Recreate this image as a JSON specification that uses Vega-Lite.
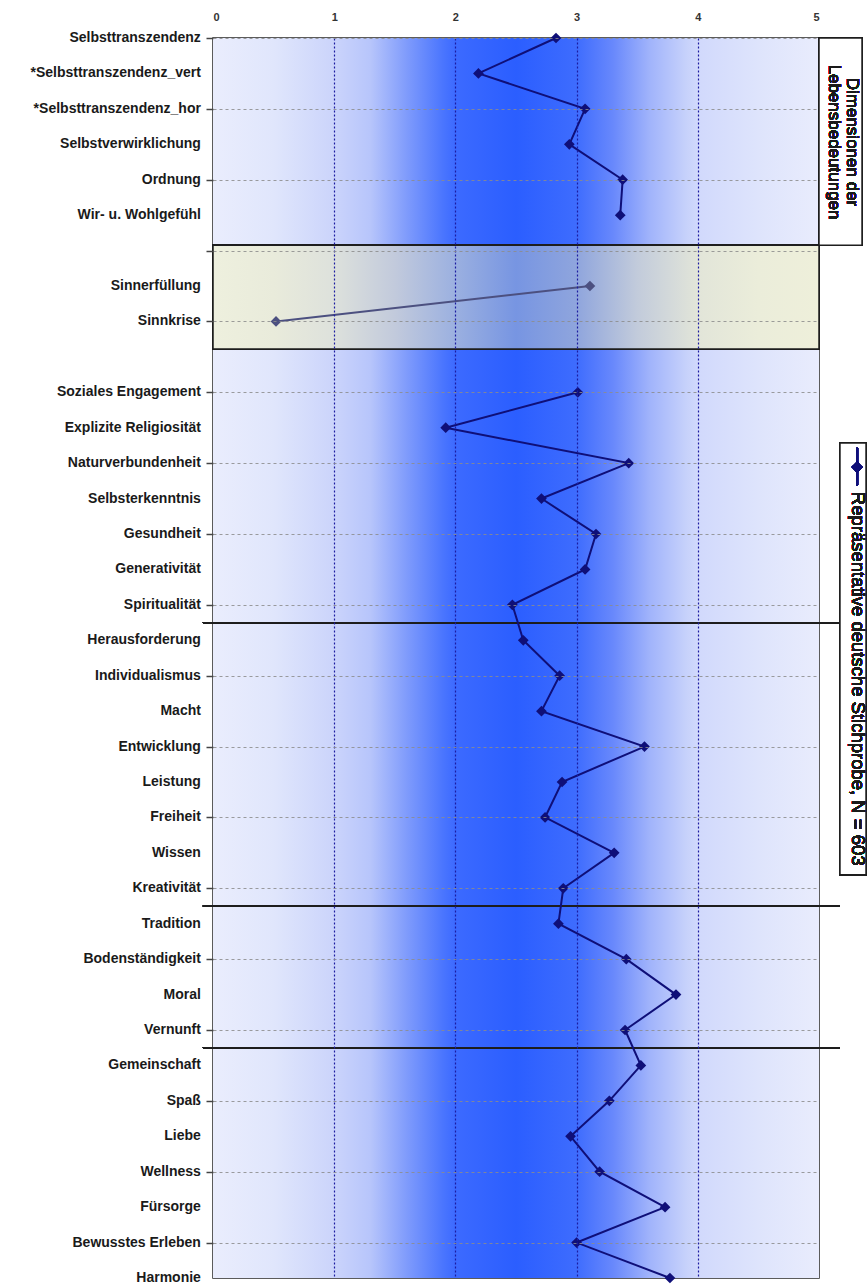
{
  "$schema": "https://vega.github.io/schema/vega-lite/v6.json",
  "width": 606,
  "height": 1240,
  "autosize": {"type": "none"},
  "padding": {"left": 213, "top": 38, "right": 49, "bottom": 8},
  "background": "white",
  "config": {
    "font": "Liberation Sans",
    "view": {"stroke": "#262626", "strokeWidth": 1.5},
    "axis": {"title": null}
  },
  "data": {
    "values": [
      {"row": 1, "name": "Selbsttranszendenz", "group": "dimension", "value": 2.83},
      {"row": 2, "name": "*Selbsttranszendenz_vert", "group": "dimension", "value": 2.19},
      {"row": 3, "name": "*Selbsttranszendenz_hor", "group": "dimension", "value": 3.07},
      {"row": 4, "name": "Selbstverwirklichung", "group": "dimension", "value": 2.94},
      {"row": 5, "name": "Ordnung", "group": "dimension", "value": 3.38},
      {"row": 6, "name": "Wir- u. Wohlgefühl", "group": "dimension", "value": 3.36},
      {"row": 8, "name": "Sinnerfüllung", "group": "sinn", "value": 3.11},
      {"row": 9, "name": "Sinnkrise", "group": "sinn", "value": 0.52},
      {"row": 11, "name": "Soziales Engagement", "group": "motive", "value": 3.01},
      {"row": 12, "name": "Explizite Religiosität", "group": "motive", "value": 1.92},
      {"row": 13, "name": "Naturverbundenheit", "group": "motive", "value": 3.43},
      {"row": 14, "name": "Selbsterkenntnis", "group": "motive", "value": 2.71},
      {"row": 15, "name": "Gesundheit", "group": "motive", "value": 3.16},
      {"row": 16, "name": "Generativität", "group": "motive", "value": 3.07},
      {"row": 17, "name": "Spiritualität", "group": "motive", "value": 2.47},
      {"row": 18, "name": "Herausforderung", "group": "motive", "value": 2.56},
      {"row": 19, "name": "Individualismus", "group": "motive", "value": 2.86},
      {"row": 20, "name": "Macht", "group": "motive", "value": 2.71},
      {"row": 21, "name": "Entwicklung", "group": "motive", "value": 3.56},
      {"row": 22, "name": "Leistung", "group": "motive", "value": 2.88},
      {"row": 23, "name": "Freiheit", "group": "motive", "value": 2.74},
      {"row": 24, "name": "Wissen", "group": "motive", "value": 3.31},
      {"row": 25, "name": "Kreativität", "group": "motive", "value": 2.89},
      {"row": 26, "name": "Tradition", "group": "motive", "value": 2.85},
      {"row": 27, "name": "Bodenständigkeit", "group": "motive", "value": 3.41},
      {"row": 28, "name": "Moral", "group": "motive", "value": 3.82},
      {"row": 29, "name": "Vernunft", "group": "motive", "value": 3.40},
      {"row": 30, "name": "Gemeinschaft", "group": "motive", "value": 3.53},
      {"row": 31, "name": "Spaß", "group": "motive", "value": 3.27},
      {"row": 32, "name": "Liebe", "group": "motive", "value": 2.95},
      {"row": 33, "name": "Wellness", "group": "motive", "value": 3.19},
      {"row": 34, "name": "Fürsorge", "group": "motive", "value": 3.73},
      {"row": 35, "name": "Bewusstes Erleben", "group": "motive", "value": 3.00},
      {"row": 36, "name": "Harmonie", "group": "motive", "value": 3.77}
    ]
  },
  "layer": [
    {
      "mark": {
        "type": "rect",
        "fill": {
          "gradient": "linear",
          "x1": 0, "y1": 0, "x2": 1, "y2": 0,
          "stops": [
            {"offset": 0, "color": "#eaedfd"},
            {"offset": 0.1, "color": "#e0e6fc"},
            {"offset": 0.2, "color": "#cbd4fb"},
            {"offset": 0.26, "color": "#b7c5fb"},
            {"offset": 0.32, "color": "#7f9bfc"},
            {"offset": 0.38, "color": "#4a75fe"},
            {"offset": 0.4, "color": "#3c6aff"},
            {"offset": 0.5, "color": "#2b5eff"},
            {"offset": 0.6, "color": "#3e6cfe"},
            {"offset": 0.66, "color": "#6888fc"},
            {"offset": 0.72, "color": "#a0b3fb"},
            {"offset": 0.78, "color": "#c6d1fb"},
            {"offset": 0.8, "color": "#d1d9fc"},
            {"offset": 0.9, "color": "#dee4fc"},
            {"offset": 1, "color": "#e9ecfd"}
          ]
        }
      },
      "encoding": {
        "x": {"datum": 0, "type": "quantitative"},
        "x2": {"datum": 5},
        "y": {"datum": 1, "type": "quantitative"},
        "y2": {"datum": 36}
      }
    },
    {
      "mark": {
        "type": "rect",
        "fill": {
          "gradient": "linear",
          "x1": 0, "y1": 0, "x2": 1, "y2": 0,
          "stops": [
            {"offset": 0, "color": "#eef0de"},
            {"offset": 0.1, "color": "#e9ebdb"},
            {"offset": 0.2, "color": "#dde1dc"},
            {"offset": 0.3, "color": "#c2cadc"},
            {"offset": 0.4, "color": "#9bb0e0"},
            {"offset": 0.5, "color": "#7795e2"},
            {"offset": 0.6, "color": "#8fa5dd"},
            {"offset": 0.7, "color": "#c2cbdb"},
            {"offset": 0.8, "color": "#e2e5d9"},
            {"offset": 0.9, "color": "#ebedda"},
            {"offset": 1, "color": "#eeefda"}
          ]
        },
        "stroke": "#1e1e1e",
        "strokeWidth": 1.5
      },
      "encoding": {
        "x": {"datum": 0, "type": "quantitative"},
        "x2": {"datum": 5},
        "y": {"datum": 6.85, "type": "quantitative"},
        "y2": {"datum": 9.78}
      }
    },
    {
      "mark": {"type": "rect", "fill": "white", "stroke": "#1e1e1e", "strokeWidth": 1.5},
      "encoding": {
        "x": {"datum": 5, "type": "quantitative"},
        "x2": {"datum": 5.355},
        "y": {"datum": 1, "type": "quantitative"},
        "y2": {"datum": 6.85}
      }
    },
    {
      "mark": {"type": "rule", "stroke": "#1e1e1e", "strokeWidth": 1.3},
      "encoding": {
        "x": {"datum": -0.083, "type": "quantitative"},
        "x2": {"datum": 5.173},
        "y": {"datum": 17.5, "type": "quantitative"}
      }
    },
    {
      "mark": {"type": "rule", "stroke": "#1e1e1e", "strokeWidth": 1.3},
      "encoding": {
        "x": {"datum": -0.083, "type": "quantitative"},
        "x2": {"datum": 5.173},
        "y": {"datum": 25.5, "type": "quantitative"}
      }
    },
    {
      "mark": {"type": "rule", "stroke": "#1e1e1e", "strokeWidth": 1.3},
      "encoding": {
        "x": {"datum": -0.083, "type": "quantitative"},
        "x2": {"datum": 5.173},
        "y": {"datum": 29.5, "type": "quantitative"}
      }
    },
    {
      "mark": {"type": "rect", "fill": "white", "stroke": "#1e1e1e", "strokeWidth": 1.5},
      "encoding": {
        "x": {"datum": 5.173, "type": "quantitative"},
        "x2": {"datum": 5.388},
        "y": {"datum": 12.43, "type": "quantitative"},
        "y2": {"datum": 24.62}
      }
    },
    {
      "mark": {"type": "line", "strokeWidth": 2},
      "encoding": {
        "x": {
          "field": "value",
          "type": "quantitative",
          "scale": {"domain": [0, 5], "nice": false, "zero": false},
          "axis": {
            "orient": "top",
            "values": [0, 1, 2, 3, 4, 5],
            "format": "d",
            "zindex": 1,
            "domain": false,
            "ticks": false,
            "tickSize": 0,
            "labelPadding": 16,
            "labelFontSize": 11,
            "labelFontWeight": "bold",
            "labelColor": "#333333",
            "grid": true,
            "gridDash": [2, 2],
            "gridWidth": 1.2,
            "gridColor": {
              "condition": {"test": "datum.value == 0 || datum.value == 5", "value": "transparent"},
              "value": "#1c1ca0"
            }
          }
        },
        "y": {
          "field": "row",
          "type": "quantitative",
          "scale": {"domain": [1, 36], "reverse": true, "nice": false, "zero": false},
          "axis": {
            "orient": "left",
            "values": [1, 2, 3, 4, 5, 6, 7, 8, 9, 10, 11, 12, 13, 14, 15, 16, 17, 18, 19, 20, 21, 22, 23, 24, 25, 26, 27, 28, 29, 30, 31, 32, 33, 34, 35, 36],
            "zindex": 1,
            "domain": false,
            "labels": false,
            "ticks": true,
            "tickSize": 7,
            "tickWidth": 1.5,
            "tickColor": "#444444",
            "grid": true,
            "gridDash": [3, 3],
            "gridColor": "#8c8c8c",
            "gridOpacity": 0.85
          }
        },
        "order": {"field": "row", "type": "quantitative"},
        "color": {
          "field": "group",
          "type": "nominal",
          "scale": {"domain": ["dimension", "sinn", "motive"], "range": ["#0f0f78", "#4c5080", "#0f0f78"]},
          "legend": null
        }
      }
    },
    {
      "mark": {"type": "point", "shape": "diamond", "filled": true, "size": 115, "opacity": 1},
      "encoding": {
        "x": {"field": "value", "type": "quantitative"},
        "y": {"field": "row", "type": "quantitative"},
        "color": {"field": "group", "type": "nominal", "legend": null}
      }
    },
    {
      "mark": {"type": "text", "align": "right", "baseline": "middle", "fontSize": 14, "fontWeight": "bold", "color": "#1a1a1a"},
      "encoding": {
        "x": {"datum": -0.1, "type": "quantitative"},
        "y": {"field": "row", "type": "quantitative"},
        "text": {"field": "name"}
      }
    },
    {
      "mark": {"type": "text", "angle": 90, "align": "center", "baseline": "middle", "fontSize": 17, "lineHeight": 18, "color": "#1a1a1a"},
      "encoding": {
        "x": {"datum": 5.272, "type": "quantitative"},
        "y": {"datum": 3.935, "type": "quantitative"},
        "text": {"value": ["Dimensionen der", "Lebensbedeutungen"]}
      }
    },
    {
      "mark": {"type": "rule", "stroke": "#0f0f78", "strokeWidth": 2},
      "encoding": {
        "x": {"datum": 5.314, "type": "quantitative"},
        "y": {"datum": 12.57, "type": "quantitative"},
        "y2": {"datum": 13.62}
      }
    },
    {
      "mark": {"type": "point", "shape": "diamond", "filled": true, "size": 115, "color": "#0f0f78", "opacity": 1},
      "encoding": {
        "x": {"datum": 5.314, "type": "quantitative"},
        "y": {"datum": 13.11, "type": "quantitative"}
      }
    },
    {
      "mark": {"type": "text", "angle": 90, "align": "left", "baseline": "middle", "fontSize": 18.5, "color": "#1a1a1a"},
      "encoding": {
        "x": {"datum": 5.318, "type": "quantitative"},
        "y": {"datum": 13.81, "type": "quantitative"},
        "text": {"value": "Repräsentative deutsche Stichprobe, N = 603"}
      }
    }
  ]
}
